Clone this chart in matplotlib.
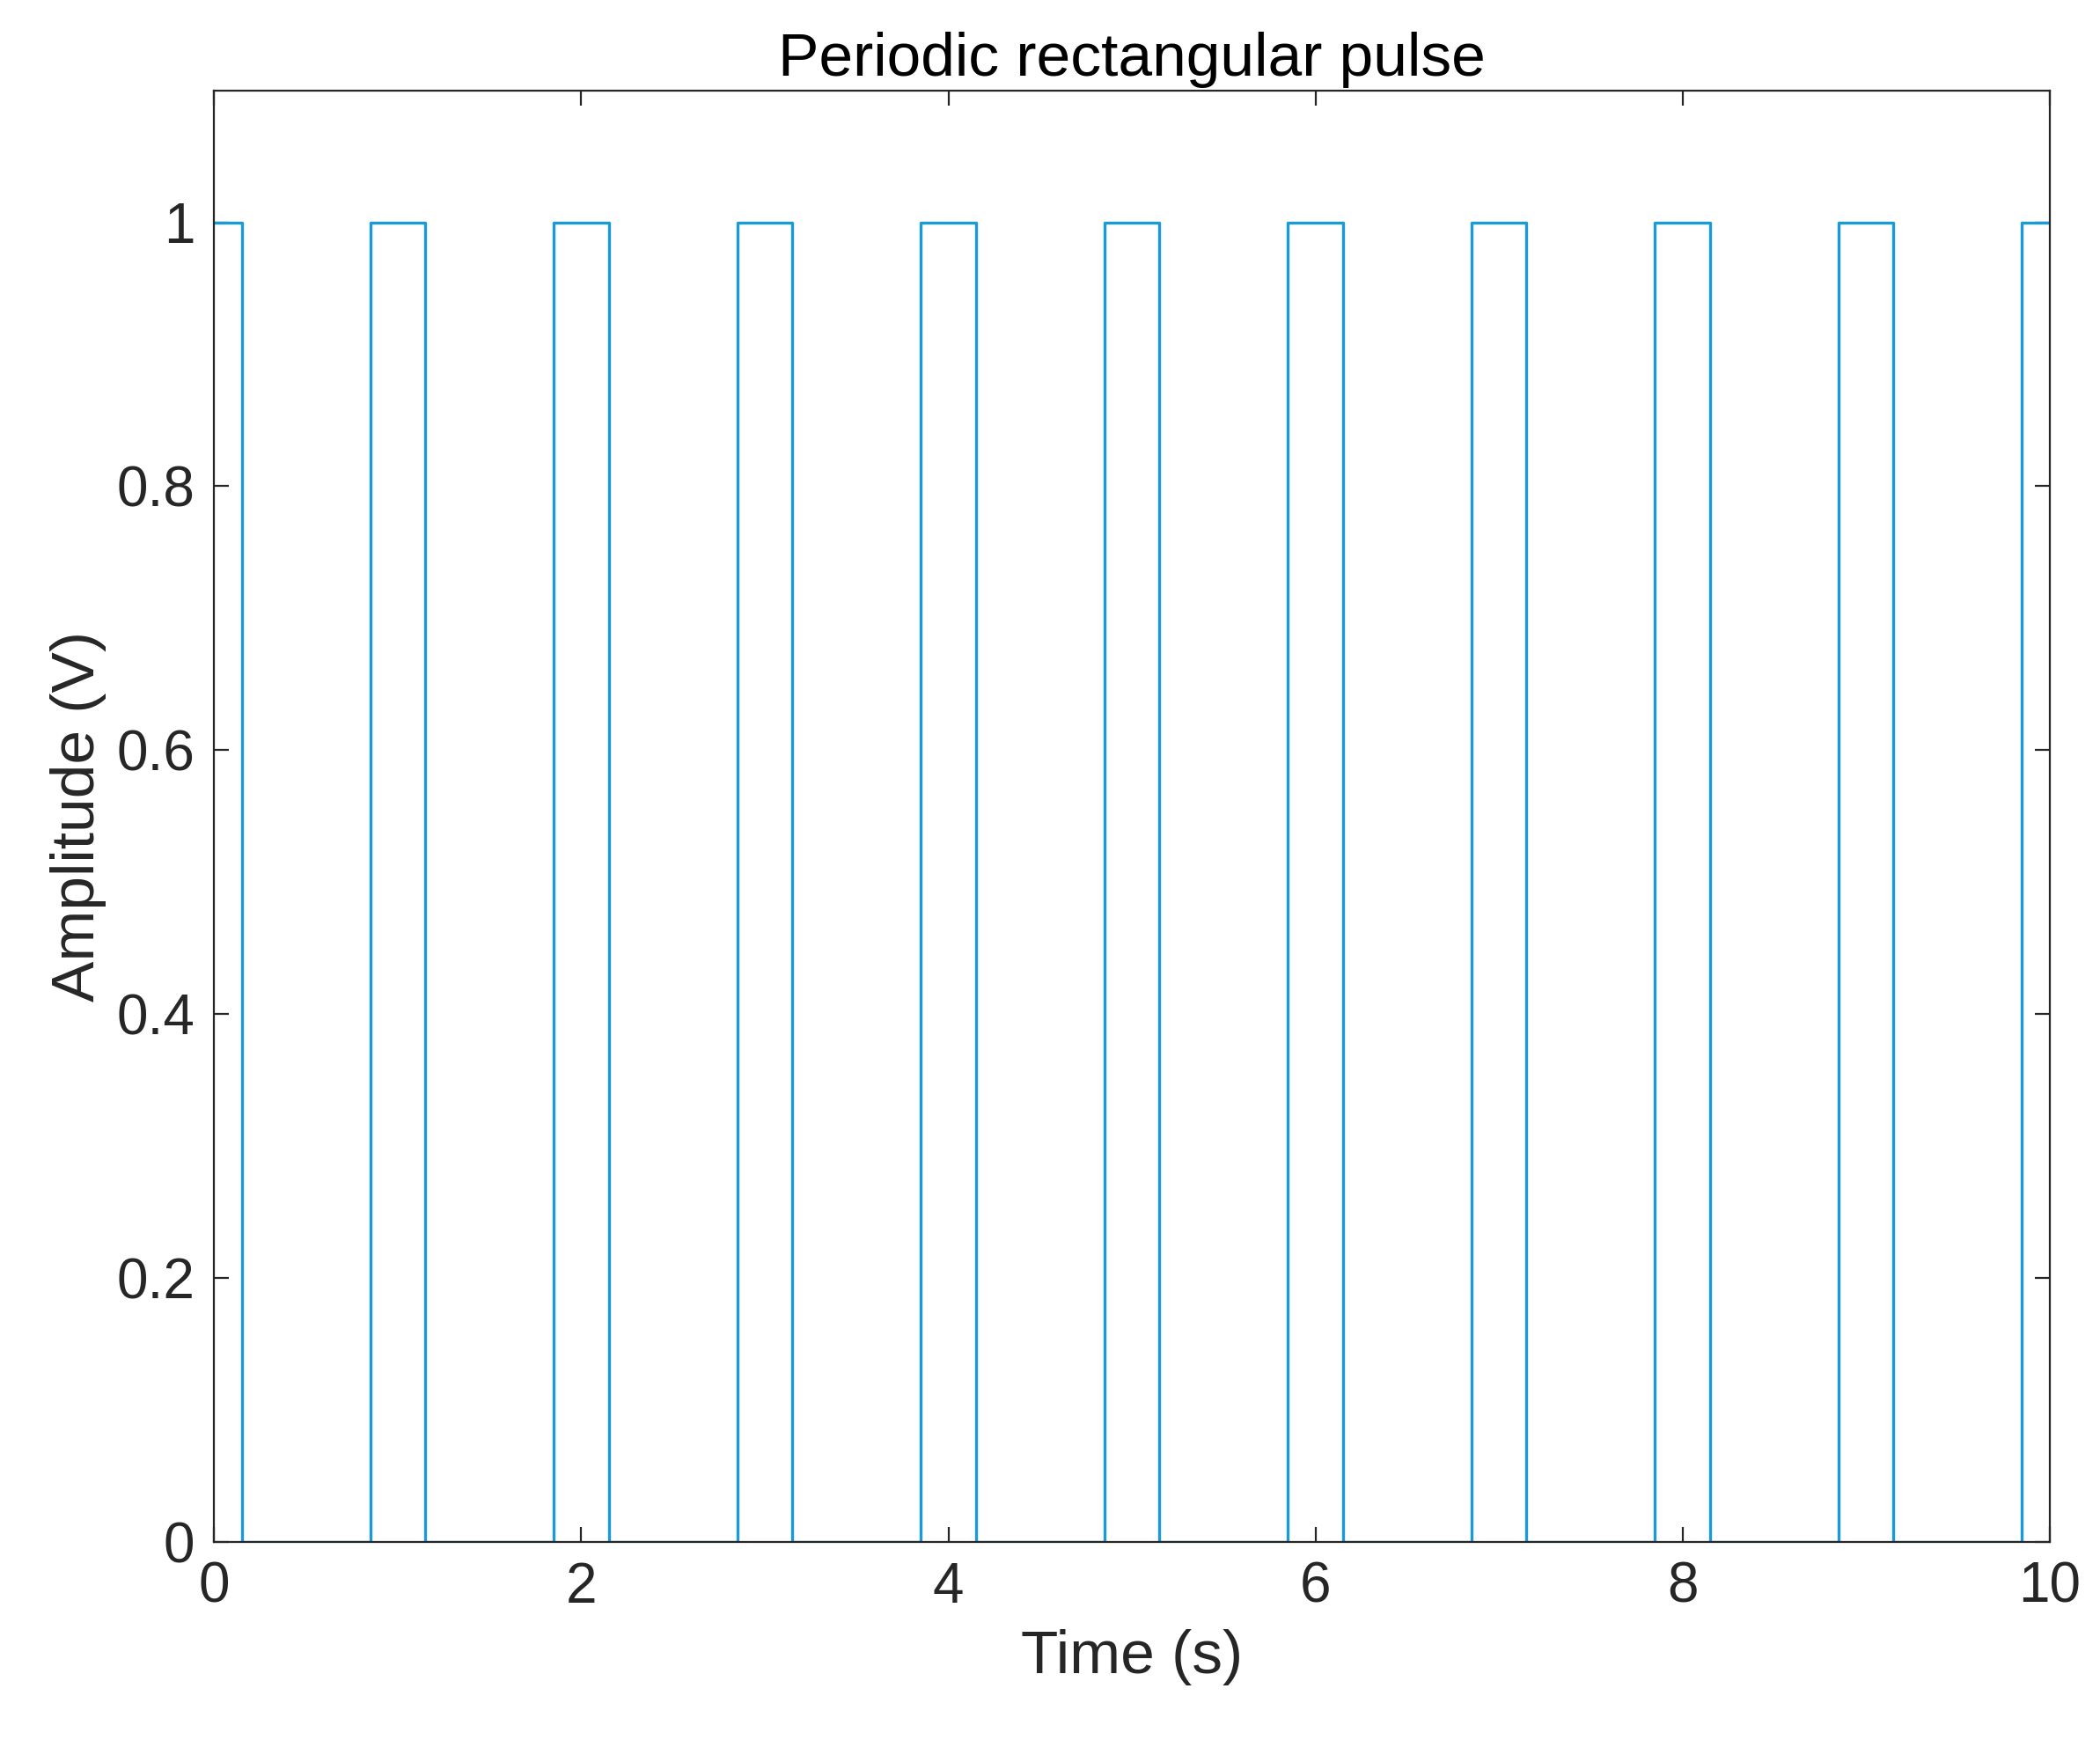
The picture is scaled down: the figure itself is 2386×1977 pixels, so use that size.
import matplotlib
matplotlib.use("Agg")
import matplotlib.pyplot as plt
import numpy as np

pulse_centers = [0, 1, 2, 3, 4, 5, 6, 7, 8, 9, 10]
pulse_width = 0.3
t_min, t_max = 0, 10

t = [t_min]
y = [1]
for c in pulse_centers:
    a, b = max(c - pulse_width / 2, t_min), min(c + pulse_width / 2, t_max)
    if a > t_min:
        t += [a, a]; y += [0, 1]
    t += [b]; y += [1]
    if b < t_max:
        t += [b]; y += [0]
t = np.array(t); y = np.array(y)

plt.rcParams['font.family'] = ['Arial', 'Liberation Sans', 'DejaVu Sans']
fig = plt.figure(figsize=(11.93, 9.885), dpi=200)
ax = fig.add_axes([0.102, 0.114, 0.874, 0.834])
ax.plot(t, y, color='#1A9BD7', lw=1.2)
ax.set_xlim(0, 10)
ax.set_ylim(0, 1.1)
ax.set_xticks([0, 2, 4, 6, 8, 10])
ax.set_yticks([0, 0.2, 0.4, 0.6, 0.8, 1])
ax.set_yticklabels(['0', '0.2', '0.4', '0.6', '0.8', '1'])
ax.tick_params(direction='in', top=True, right=True, labelsize=23, length=6, width=0.8, colors='#262626', pad=8)
for s in ax.spines.values():
    s.set_linewidth(0.8); s.set_color('#262626')
ax.set_xlabel('Time (s)', fontsize=25, color='#262626', labelpad=6)
ax.set_ylabel('Amplitude (V)', fontsize=25, color='#262626', labelpad=4)
ax.set_title('Periodic rectangular pulse', fontsize=25, color='black', pad=6)
fig.savefig('out.png', dpi=200, facecolor='white')
